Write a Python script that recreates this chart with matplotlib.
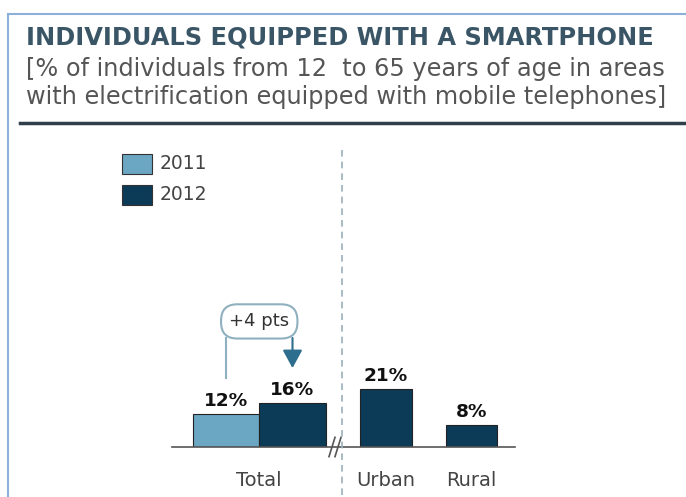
import matplotlib
matplotlib.use("Agg")
import matplotlib.pyplot as plt
from matplotlib.lines import Line2D

plt.rcParams['font.family'] = ['DejaVu Sans']

# data
categories = ['Total', 'Urban', 'Rural']
years = ['2011', '2012']
total_values = [12, 16]  # 2011, 2012
urban_value = 21  # 2012
rural_value = 8  # 2012
change_label = '+4 pts'

light = '#6ba6c2'
dark = '#0c3b58'
grey_text = '#444444'

W, H = 686, 497
fig = plt.figure(figsize=(W / 100, H / 100), dpi=100)

# frame lines of the card
fig.add_artist(Line2D([8 / W, 1], [1 - 14 / H, 1 - 14 / H], color='#8db0d8', lw=1.5))
fig.add_artist(Line2D([8 / W, 8 / W], [0, 1 - 14 / H], color='#8db0d8', lw=1.5))

# header
fig.text(26 / W, 1 - 37 / H, 'INDIVIDUALS EQUIPPED WITH A SMARTPHONE', fontsize=17.4,
         fontweight='bold', color='#3a5666', va='center')
fig.text(26 / W, 1 - 69 / H, '[% of individuals from 12  to 65 years of age in areas',
         fontsize=17.3, color='#555555', va='center')
fig.text(26 / W, 1 - 97 / H, 'with electrification equipped with mobile telephones]',
         fontsize=17.3, color='#555555', va='center')
fig.add_artist(Line2D([20 / W, 1], [1 - 123 / H, 1 - 123 / H], color='#2f3f4b', lw=2.5))

# chart area (x in pixel-like units, y in %)
ax_left, ax_right, ax_bottom, ax_top = 172, 515, 447, 150
ax = fig.add_axes([ax_left / W, 1 - ax_bottom / H, (ax_right - ax_left) / W, (ax_bottom - ax_top) / H])
px_per_pct = 2.76
ax.set_xlim(0, ax_right - ax_left)
ax.set_ylim(0, (ax_bottom - ax_top) / px_per_pct)
ax.axis('off')

# bar positions (centres) and widths
total_x = [54, 120.5]
total_w = [66, 67]
urban_x, urban_w = 214, 52
rural_x, rural_w = 299.5, 51

for i in range(2):
    ax.bar(total_x[i], total_values[i], width=total_w[i], color=[light, dark][i],
           edgecolor='#222222', linewidth=0.8)
ax.bar(urban_x, urban_value, width=urban_w, color=dark, edgecolor='#222222', linewidth=0.8)
ax.bar(rural_x, rural_value, width=rural_w, color=dark, edgecolor='#222222', linewidth=0.8)

# value labels
lab_kw = dict(ha='center', va='bottom', fontsize=13.3, fontweight='bold', color='#111111')
for i in range(2):
    ax.text(total_x[i], total_values[i] + 1.3, f'{total_values[i]}%', **lab_kw)
ax.text(urban_x, urban_value + 1.3, f'{urban_value}%', **lab_kw)
ax.text(rural_x, rural_value + 1.3, f'{rural_value}%', **lab_kw)

# baseline
ax.plot([0, ax_right - ax_left], [0, 0], color='#555555', lw=1.2, clip_on=False)

# category labels
for x, name in zip([(total_x[0] + total_x[1]) / 2, urban_x, rural_x], categories):
    ax.text(x, -12, name, ha='center', va='center', fontsize=14, color=grey_text, clip_on=False)

# break marks
for dx in (-3, 3):
    ax.plot([163 + dx - 3, 163 + dx + 3], [-3.5, 3.5], color='#555555', lw=1.2, clip_on=False)

# dashed separator
sep_x = (342 - ax_left) / (ax_right - ax_left)
ax.plot([sep_x, sep_x], [1, -0.2], transform=ax.transAxes, color='#9ab0bc', lw=1.2,
        ls=(0, (4, 3)), clip_on=False)

# change annotation
box_y = 39.5
ax.plot([total_x[0], total_x[0]], [box_y, 25], color='#8fb0bf', lw=1.5)
ax.annotate('', xy=(total_x[1], 28.6), xytext=(total_x[1], box_y),
            arrowprops=dict(arrowstyle='-|>,head_length=1.1,head_width=0.6', color='#2d6d8d', lw=1.5,
                            shrinkA=0, shrinkB=0))
ax.text((total_x[0] + total_x[1]) / 2, 45.5, change_label, ha='center', va='center', fontsize=13,
        color='#333333', bbox=dict(boxstyle='round,pad=0.45,rounding_size=0.9', fc='white',
                                   ec='#8fb0bf', lw=1.5))

# legend
lax_x = 122
for j, (yr, col) in enumerate(zip(years, [light, dark])):
    y = 164 + 31 * j
    fig.patches.append(plt.Rectangle((lax_x / W, 1 - (y + 10) / H), 30 / W, 20 / H, transform=fig.transFigure,
                                     facecolor=col, edgecolor='#333333', lw=0.8))
    fig.text(160 / W, 1 - y / H, yr, fontsize=13.5, color=grey_text, va='center')

fig.savefig('out.png', dpi=100)
